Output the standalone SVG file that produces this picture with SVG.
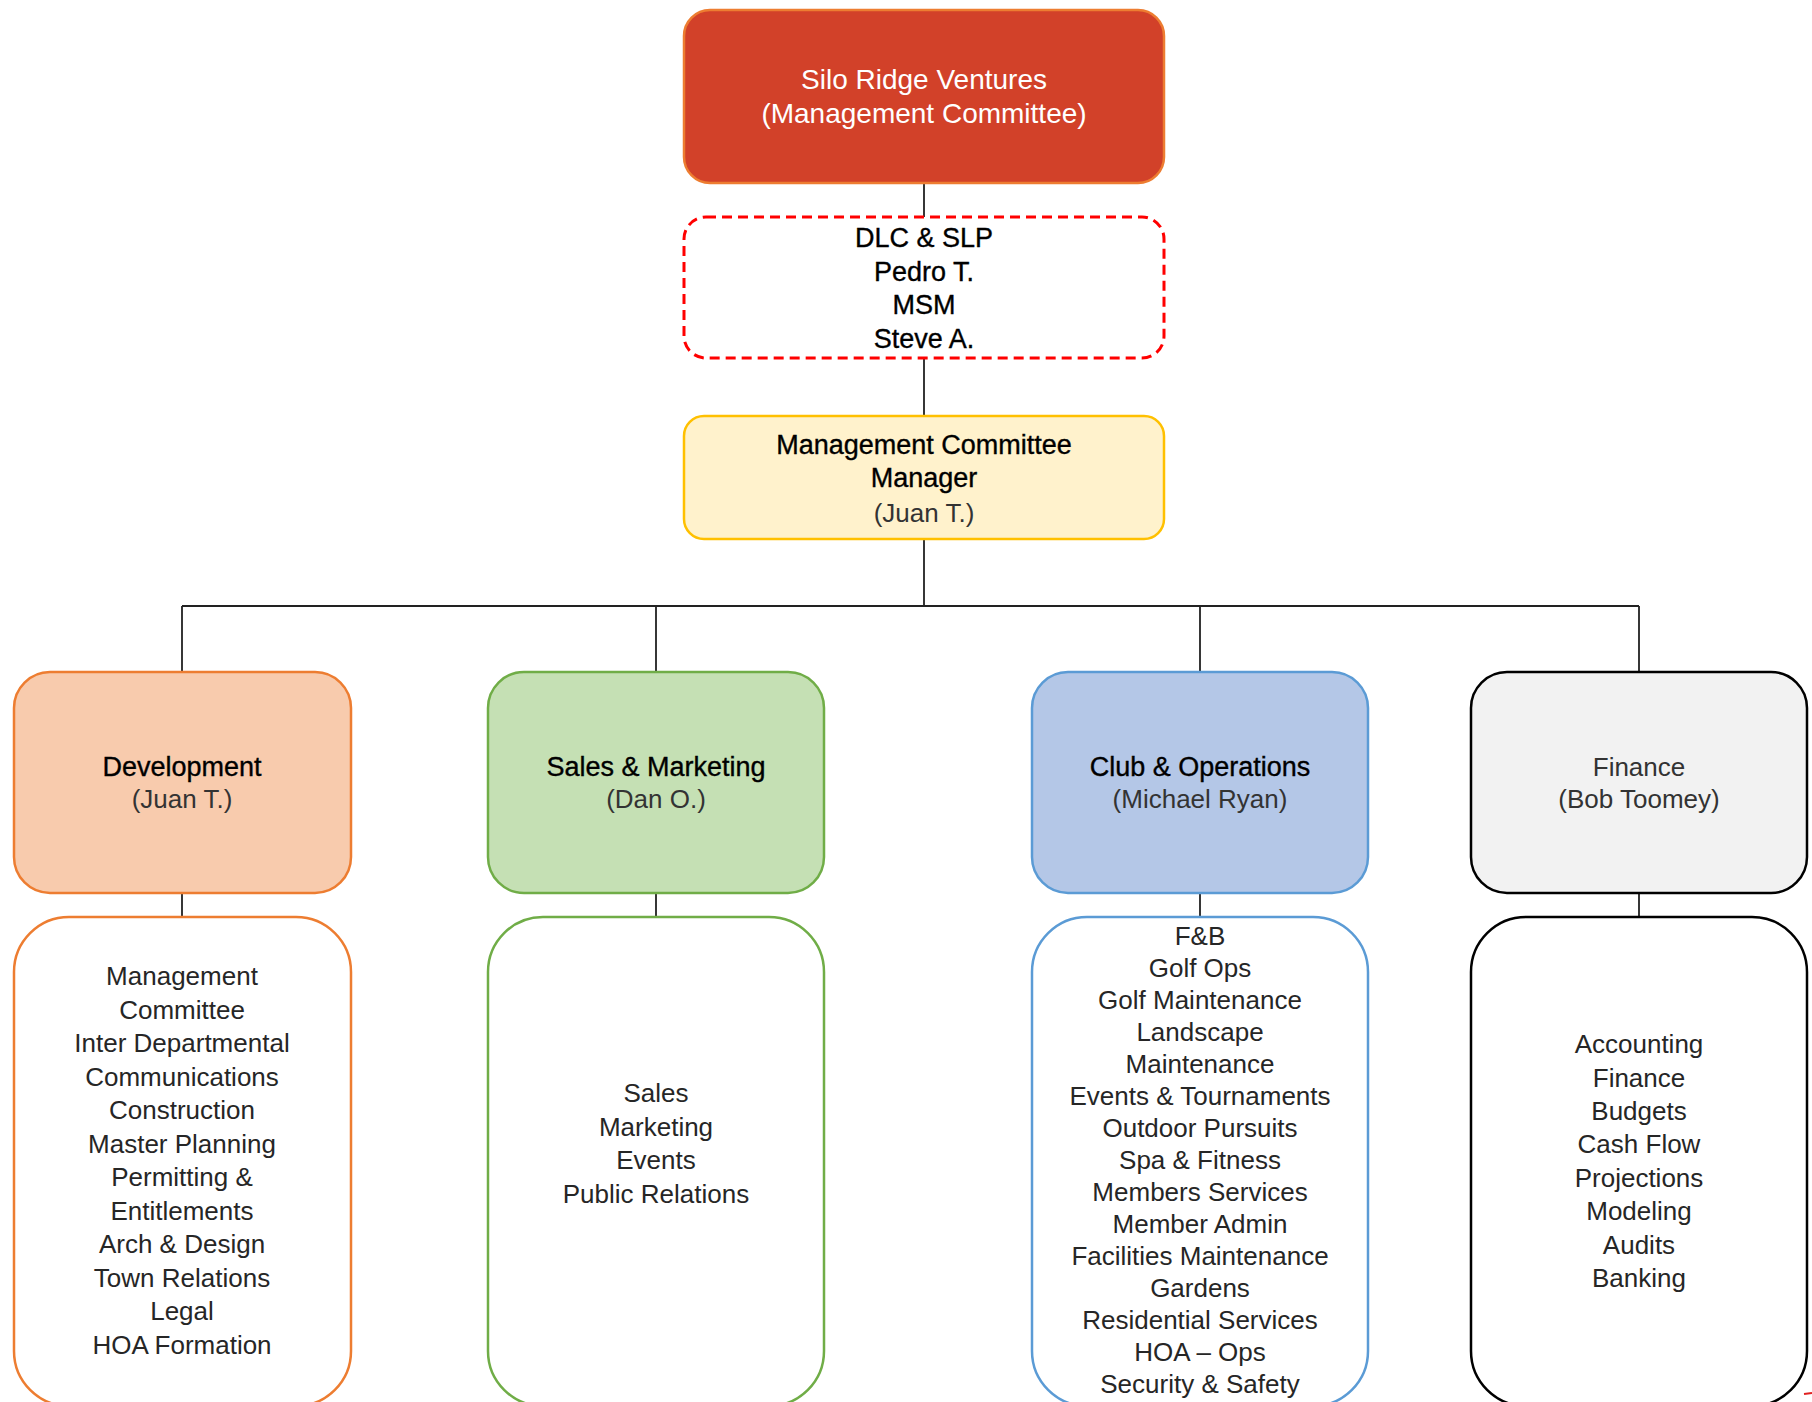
<svg xmlns="http://www.w3.org/2000/svg" width="1812" height="1402" viewBox="0 0 1812 1402">
<style>
text{font-family:"Liberation Sans",Arial,sans-serif;text-anchor:middle}
.h{font-size:27px;fill:#000;stroke:#000;stroke-width:0.35}
.s{font-size:26px;fill:#333}
.l{font-size:26px;fill:#262626}
.w{font-size:28px;fill:#fff}
.c{stroke:#222;stroke-width:1.8;fill:none}
.b{stroke-width:2.5}
</style>
<rect width="1812" height="1402" fill="#fff"/>
<g id="connectors">
<path class="c" d="M924 183V217M924 358V416M924 539V606M182 606H1639M182 606V672M656 606V672M1200 606V672M1639 606V672M182 893V917M656 893V917M1200 893V917M1639 893V917"/>
</g>
<g id="silo">
<rect class="b" x="684" y="10" width="480" height="173" rx="26" fill="#D24129" stroke="#ED7D31"/>
<text class="w" x="924" y="89">Silo Ridge Ventures</text>
<text class="w" x="924" y="123">(Management Committee)</text>
</g>
<g id="dlc">
<rect x="684" y="217" width="480" height="141" rx="22" fill="#fff" stroke="#FF0000" stroke-width="3" stroke-dasharray="10 6"/>
<text class="h" x="924" y="247">DLC &amp; SLP</text>
<text class="h" x="924" y="281">Pedro T.</text>
<text class="h" x="924" y="314">MSM</text>
<text class="h" x="924" y="348">Steve A.</text>
</g>
<g id="mcm">
<rect class="b" x="684" y="416" width="480" height="123" rx="20" fill="#FFF2CC" stroke="#FFC000"/>
<text class="h" x="924" y="454">Management Committee</text>
<text class="h" x="924" y="487">Manager</text>
<text class="s" x="924" y="522">(Juan T.)</text>
</g>
<g id="development">
<rect class="b" x="14" y="672" width="337" height="221" rx="36" fill="#F8CBAD" stroke="#ED7D31"/>
<text class="h" x="182" y="776">Development</text>
<text class="s" x="182" y="808">(Juan T.)</text>
</g>
<g id="sales">
<rect class="b" x="488" y="672" width="336" height="221" rx="36" fill="#C5E0B4" stroke="#70AD47"/>
<text class="h" x="656" y="776">Sales &amp; Marketing</text>
<text class="s" x="656" y="808">(Dan O.)</text>
</g>
<g id="club">
<rect class="b" x="1032" y="672" width="336" height="221" rx="36" fill="#B4C7E7" stroke="#5B9BD5"/>
<text class="h" x="1200" y="776">Club &amp; Operations</text>
<text class="s" x="1200" y="808">(Michael Ryan)</text>
</g>
<g id="finance">
<rect class="b" x="1471" y="672" width="336" height="221" rx="36" fill="#F2F2F2" stroke="#000"/>
<text class="s" x="1639" y="776">Finance</text>
<text class="s" x="1639" y="808">(Bob Toomey)</text>
</g>
<g id="development-list">
<rect class="b" x="14" y="917" width="337" height="489" rx="55" fill="#fff" stroke="#ED7D31"/>
<text class="l" x="182" y="985">Management</text>
<text class="l" x="182" y="1019">Committee</text>
<text class="l" x="182" y="1052">Inter Departmental</text>
<text class="l" x="182" y="1086">Communications</text>
<text class="l" x="182" y="1119">Construction</text>
<text class="l" x="182" y="1153">Master Planning</text>
<text class="l" x="182" y="1186">Permitting &amp;</text>
<text class="l" x="182" y="1220">Entitlements</text>
<text class="l" x="182" y="1253">Arch &amp; Design</text>
<text class="l" x="182" y="1287">Town Relations</text>
<text class="l" x="182" y="1320">Legal</text>
<text class="l" x="182" y="1354">HOA Formation</text>
</g>
<g id="sales-list">
<rect class="b" x="488" y="917" width="336" height="489" rx="55" fill="#fff" stroke="#70AD47"/>
<text class="l" x="656" y="1102">Sales</text>
<text class="l" x="656" y="1136">Marketing</text>
<text class="l" x="656" y="1169">Events</text>
<text class="l" x="656" y="1203">Public Relations</text>
</g>
<g id="club-list">
<rect class="b" x="1032" y="917" width="336" height="489" rx="55" fill="#fff" stroke="#5B9BD5"/>
<text class="l" x="1200" y="945">F&amp;B</text>
<text class="l" x="1200" y="977">Golf Ops</text>
<text class="l" x="1200" y="1009">Golf Maintenance</text>
<text class="l" x="1200" y="1041">Landscape</text>
<text class="l" x="1200" y="1073">Maintenance</text>
<text class="l" x="1200" y="1105">Events &amp; Tournaments</text>
<text class="l" x="1200" y="1137">Outdoor Pursuits</text>
<text class="l" x="1200" y="1169">Spa &amp; Fitness</text>
<text class="l" x="1200" y="1201">Members Services</text>
<text class="l" x="1200" y="1233">Member Admin</text>
<text class="l" x="1200" y="1265">Facilities Maintenance</text>
<text class="l" x="1200" y="1297">Gardens</text>
<text class="l" x="1200" y="1329">Residential Services</text>
<text class="l" x="1200" y="1361">HOA – Ops</text>
<text class="l" x="1200" y="1393">Security &amp; Safety</text>
</g>
<g id="finance-list">
<rect class="b" x="1471" y="917" width="336" height="489" rx="55" fill="#fff" stroke="#000"/>
<text class="l" x="1639" y="1053">Accounting</text>
<text class="l" x="1639" y="1087">Finance</text>
<text class="l" x="1639" y="1120">Budgets</text>
<text class="l" x="1639" y="1153">Cash Flow</text>
<text class="l" x="1639" y="1187">Projections</text>
<text class="l" x="1639" y="1220">Modeling</text>
<text class="l" x="1639" y="1254">Audits</text>
<text class="l" x="1639" y="1287">Banking</text>
</g>
<line x1="1804" y1="1394" x2="1812" y2="1393" stroke="#E02020" stroke-width="2"/>
</svg>
